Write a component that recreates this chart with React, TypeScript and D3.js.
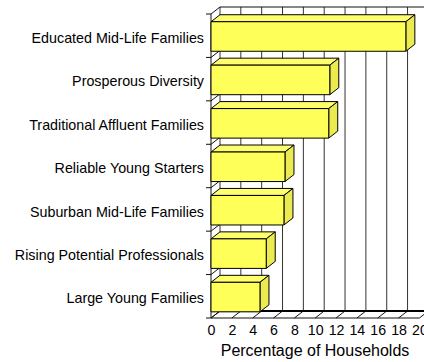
import React from "react";
import * as d3 from "d3";

// Household segments and their share of households (%)
const categories: string[] = [
  "Educated Mid-Life Families",
  "Prosperous Diversity",
  "Traditional Affluent Families",
  "Reliable Young Starters",
  "Suburban Mid-Life Families",
  "Rising Potential Professionals",
  "Large Young Families",
];
const values: number[] = [18.7, 11.4, 11.3, 7.1, 7.0, 5.3, 4.7];
const tickValues: number[] = [0, 2, 4, 6, 8, 10, 12, 14, 16, 18, 20];
const axisTitle = "Percentage of Households";

const W = 424;
const H = 362;
// 3D depth offset of the back wall relative to the front plane
const DX = 9;
const DY = -7;
const FONT = "Arial, 'Liberation Sans', Helvetica, sans-serif";

export default function App() {
  const x = d3.scaleLinear().domain([0, 20]).range([211, 419.4]);
  const y = d3.scaleBand<string>().domain(categories).range([14, 318]).padding(0);
  const bw = y.bandwidth();
  const barTop = (c: string) => (y(c) as number) + bw * 0.178;
  const barH = bw * 0.68;
  const yTop = 14;
  const yBottom = 318;
  const boundaries = d3.range(categories.length + 1).map((i) => yTop + i * bw);

  const front = "#FFFF59";
  const topFace = "#FFFF6E";
  const side = "#EBEB50";

  return (
    <svg
      width={W}
      height={H}
      style={{ position: "absolute", left: 0, top: 0, background: "#fff" }}
      fontFamily={FONT}
    >
      {/* back wall gridlines */}
      {d3.range(0, 21, 2).map((v) => (
        <line
          key={"g" + v}
          x1={x(v) + DX}
          x2={x(v) + DX}
          y1={yTop + DY}
          y2={yBottom + DY}
          stroke="#333"
          strokeWidth={1}
        />
      ))}
      <line x1={x(0) + DX} x2={x(20) + DX + 5} y1={yTop + DY} y2={yTop + DY} stroke="#111" strokeWidth={1} />

      {/* side wall: category boundaries */}
      {boundaries.map((b, i) => (
        <line key={"w" + i} x1={x(0)} y1={b} x2={x(0) + DX} y2={b + DY} stroke="#111" strokeWidth={1} />
      ))}
      <line x1={x(0)} x2={x(0)} y1={yTop} y2={yBottom} stroke="#111" strokeWidth={1} />
      {boundaries.map((b, i) => (
        <line key={"t" + i} x1={x(0) - 5} x2={x(0)} y1={b} y2={b} stroke="#111" strokeWidth={1} />
      ))}

      {/* floor */}
      {tickValues.map((v) => (
        <line key={"f" + v} x1={x(v)} y1={yBottom} x2={x(v) + DX} y2={yBottom + DY} stroke="#111" strokeWidth={1} />
      ))}
      <line x1={x(0) + DX} x2={x(20) + DX + 5} y1={yBottom + DY} y2={yBottom + DY} stroke="#000" strokeWidth={2.2} />
      <line x1={x(0)} x2={x(20)} y1={yBottom} y2={yBottom} stroke="#111" strokeWidth={1} />

      {/* bars */}
      {categories.map((c, i) => {
        const x0 = x(0);
        const x1 = x(values[i]);
        const t = barTop(c);
        const b = t + barH;
        const topPts = [
          [x0, t],
          [x0 + DX, t + DY],
          [x1 + DX, t + DY],
          [x1, t],
        ];
        const sidePts = [
          [x1, t],
          [x1 + DX, t + DY],
          [x1 + DX, b + DY],
          [x1, b],
        ];
        return (
          <g key={"b" + i} stroke="#000" strokeWidth={1} strokeLinejoin="round">
            <polygon points={topPts.map((p) => p.join(",")).join(" ")} fill={topFace} />
            <polygon points={sidePts.map((p) => p.join(",")).join(" ")} fill={side} />
            <rect x={x0} y={t} width={x1 - x0} height={barH} fill={front} />
          </g>
        );
      })}

      {/* category labels */}
      {categories.map((c) => (
        <text
          key={"l" + c}
          x={204}
          y={(y(c) as number) + 28.8}
          textAnchor="end"
          fontSize={14.3}
          fill="#000"
        >
          {c}
        </text>
      ))}

      {/* value tick labels */}
      {tickValues.map((v) => (
        <text key={"v" + v} x={x(v) + 0.5} y={335} textAnchor="middle" fontSize={14.2} fill="#000">
          {v}
        </text>
      ))}

      <text x={315} y={355.5} textAnchor="middle" fontSize={16} fill="#000">
        {axisTitle}
      </text>
    </svg>
  );
}
